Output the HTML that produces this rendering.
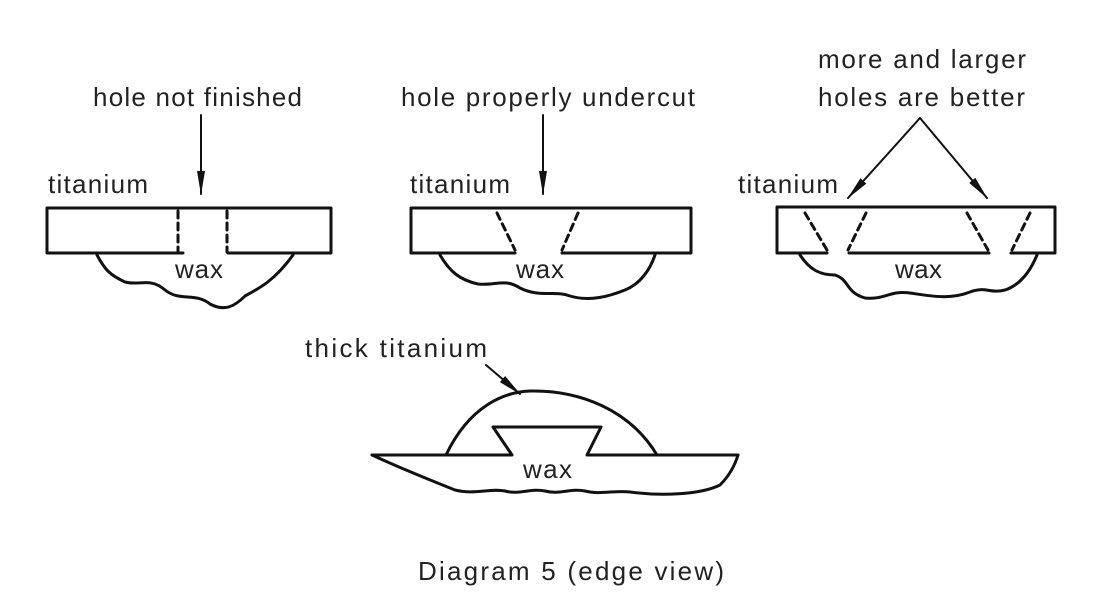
<!DOCTYPE html>
<html><head><style>
html,body{margin:0;padding:0;background:#fff;}
svg{display:block;}
text{font-family:"Liberation Sans",sans-serif;fill:#222;}
</style></head><body>
<svg width="1105" height="606" viewBox="0 0 1105 606" xmlns="http://www.w3.org/2000/svg">
<defs>
<marker id="ah" markerWidth="24" markerHeight="10" refX="23" refY="5" orient="auto" markerUnits="userSpaceOnUse" viewBox="0 0 24 10">
<path d="M0,1 L24,5 L0,9 Z" fill="#111"/>
</marker>
</defs>
<g stroke="#111" stroke-width="3" fill="none" stroke-linejoin="round" stroke-linecap="round">
<!-- Panel 1 -->
<path d="M183,253 L47,253 L47,208 L331,208 L331,253 L228,253"/>
<path d="M178,211 L178,252 M227,211 L227,252" stroke-dasharray="7,5"/>
<path d="M97,255 C105,270 110,275 125,282 C140,286 150,277 165,290 C180,302 195,292 210,304 C225,312 235,306 245,296 C260,288 275,280 293,255"/>
<line x1="201" y1="115" x2="201" y2="194" stroke-width="2" marker-end="url(#ah)"/>
<!-- Panel 2 -->
<path d="M515,253 L411,253 L411,208 L691,208 L691,253 L562,253"/>
<path d="M497,213 L515,250 M578,213 L562,250" stroke-dasharray="7,5"/>
<path d="M440,255 C450,272 460,280 478,284 C495,286 505,278 520,288 C540,298 555,290 570,296 C590,302 610,296 625,290 C640,284 650,270 655,255"/>
<line x1="543" y1="115" x2="543" y2="194" stroke-width="2" marker-end="url(#ah)"/>
<!-- Panel 3 -->
<path d="M827,253 L777,253 L777,207 L1055,207 L1055,253 L1011,253 M849,253 L989,253"/>
<path d="M805,213 L827,250 M866,213 L848,250 M967,213 L988,250 M1030,213 L1012,250" stroke-dasharray="7,5"/>
<path d="M800,255 C810,270 820,275 835,275 C850,280 845,292 865,298 C885,300 890,290 910,293 C930,296 950,300 970,292 C985,286 990,294 1005,290 C1020,285 1030,272 1037,255"/>
<path d="M920,118 L848,198" stroke-width="2" marker-end="url(#ah)"/>
<path d="M920,118 L987,198" stroke-width="2" marker-end="url(#ah)"/>
<!-- Panel 4 -->
<path d="M372,455 L512,455 L493,427 L601,427 L587,455 L738,455"/>
<path d="M446,455 C470,405 505,392 530,391 C580,390 630,410 657,455"/>
<path d="M372,455 C400,468 430,480 455,490 C475,495 490,488 505,491 C520,495 530,488 545,491 C560,495 570,488 585,491 C600,495 615,490 630,492 C660,496 700,495 720,485 C730,475 735,465 738,455"/>
<line x1="486" y1="365" x2="520" y2="394" stroke-width="2" marker-end="url(#ah)"/>
</g>
<g font-size="26" lengthAdjust="spacing">
<text x="93" y="106" textLength="209">hole not finished</text>
<text x="48" y="193" textLength="100">titanium</text>
<text x="175" y="278" textLength="48">wax</text>
<text x="401" y="106" textLength="294">hole properly undercut</text>
<text x="410" y="193" textLength="100">titanium</text>
<text x="516" y="278" textLength="48">wax</text>
<text x="818" y="68" textLength="208">more and larger</text>
<text x="818" y="106" textLength="207">holes are better</text>
<text x="738" y="193" textLength="100">titanium</text>
<text x="895" y="278" textLength="47">wax</text>
<text x="305" y="357" textLength="182">thick titanium</text>
<text x="523" y="478" textLength="49">wax</text>
<text x="418" y="580" textLength="306">Diagram 5 (edge view)</text>
</g>
</svg>
</body></html>
